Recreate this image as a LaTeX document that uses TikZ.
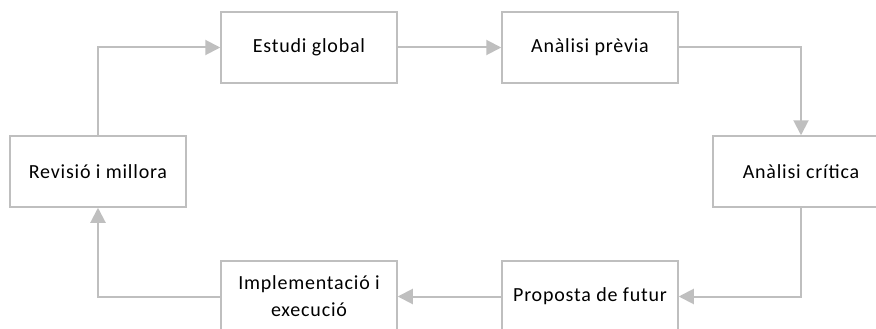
\documentclass[tikz,border=0pt]{standalone}
\usepackage{fontspec}
\setmainfont{Carlito}[LetterSpace=4]
\usetikzlibrary{arrows.meta}
\definecolor{boxgray}{HTML}{BFBFBF}
\begin{document}
\begin{tikzpicture}[x=1pt,y=-1pt,
  stepbox/.style={draw=boxgray, line width=1.5pt, fill=white, minimum width=176pt, minimum height=71pt,
     inner sep=2pt, align=center, font=\fontsize{20}{27}\selectfont, text=black},
  conn/.style={draw=boxgray, line width=2pt, -{Triangle[length=15pt,width=15pt]}}]
\useasboundingbox (0,0) rectangle (876,329);
\fill[white] (0,0) rectangle (876,329);
\node[stepbox] (est) at (309,47.5) {Estudi global};
\node[stepbox] (pre) at (590,47.5) {Anàlisi prèvia};
\node[stepbox] (cri) at (801,171.5) {Anàlisi crítica};
\node[stepbox] (pro) at (590,296.5) {Proposta de futur};
\node[stepbox] (imp) at (309,296.5) {Implementació i\\execució};
\node[stepbox] (rev) at (98,171.5) {Revisió i millora};
\draw[conn] (est) -- (pre);
\draw[conn] (pre.east) -| (cri.north);
\draw[conn] (cri.south) |- (pro.east);
\draw[conn] (pro) -- (imp);
\draw[conn] (imp.west) -| (rev.south);
\draw[conn] (rev.north) |- (est.west);
\end{tikzpicture}
\end{document}
